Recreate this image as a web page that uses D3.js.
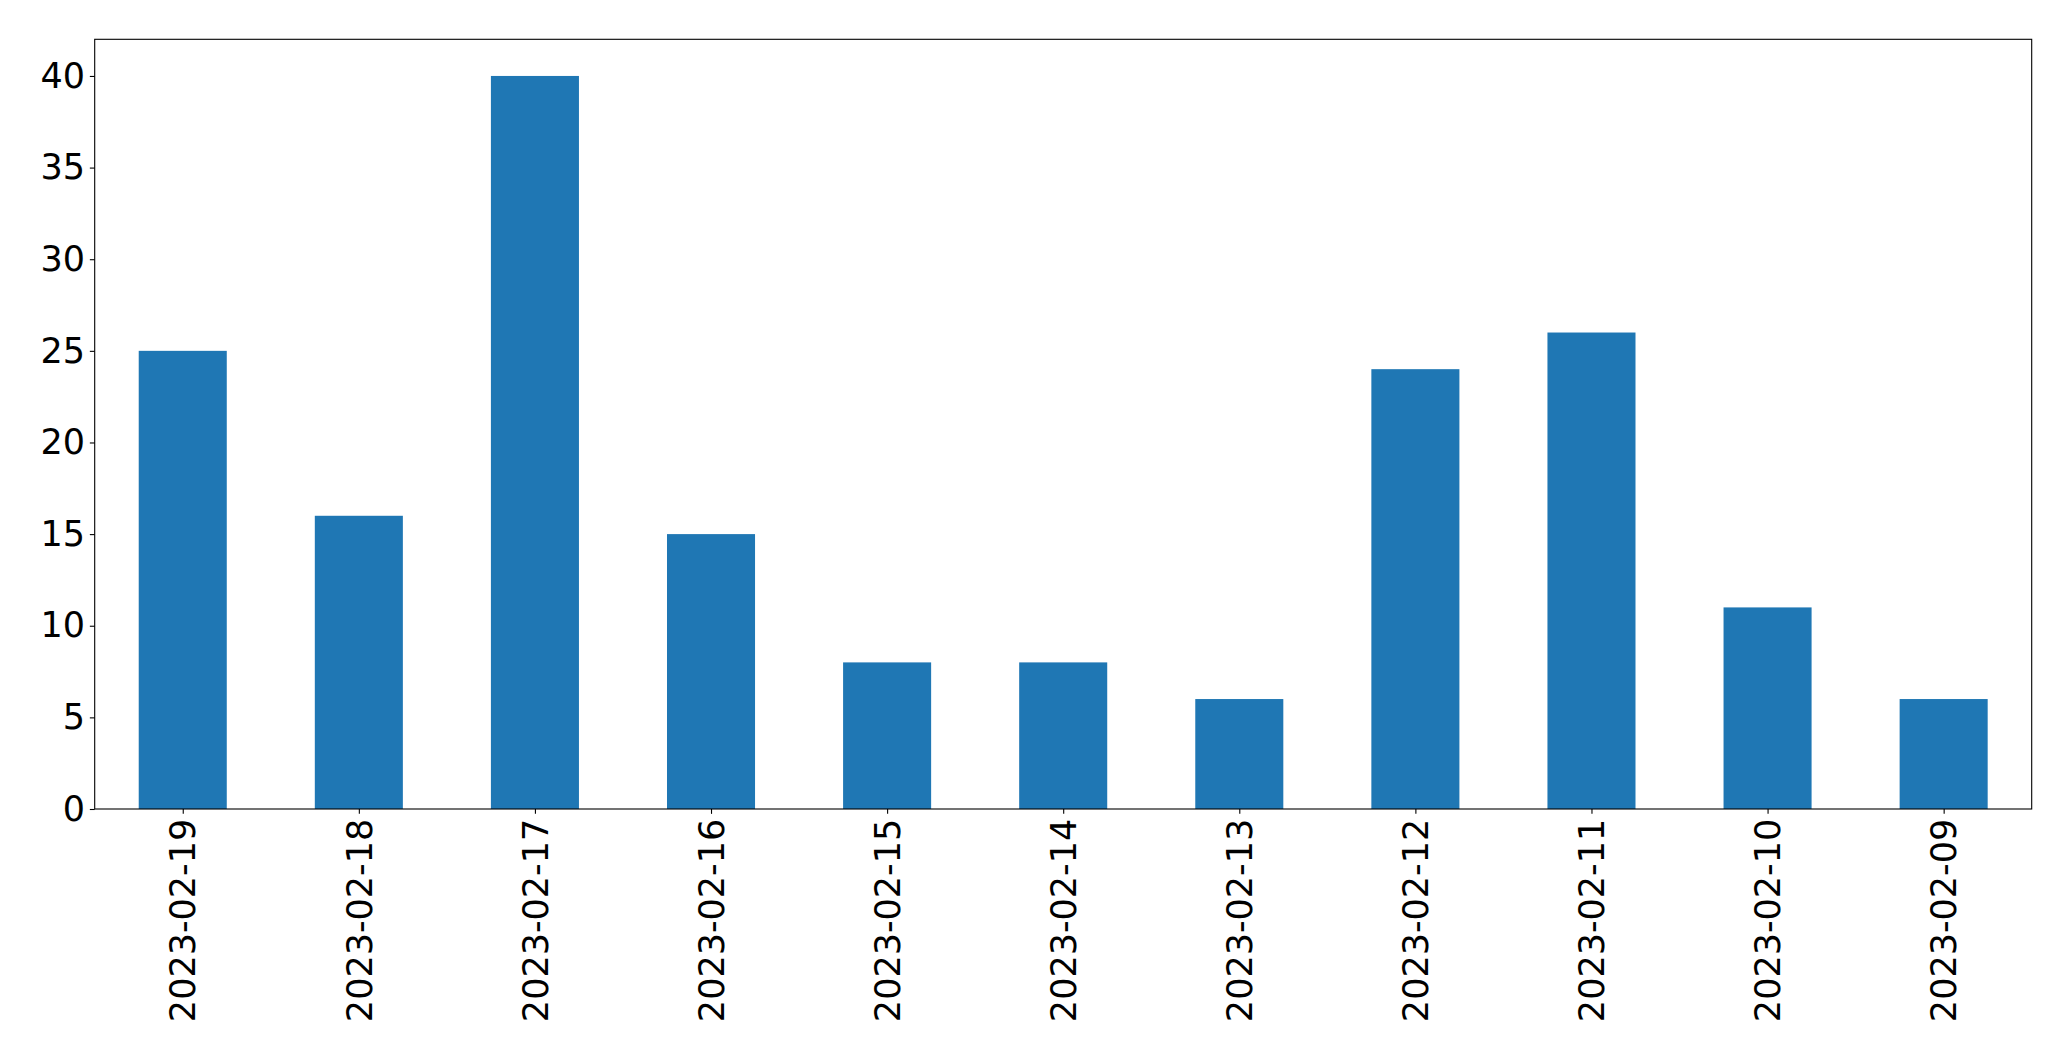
<!DOCTYPE html>
<html>
<head>
<meta charset="utf-8">
<script src="https://cdn.jsdelivr.net/npm/d3@7"></script>
<style>
  html, body { margin: 0; padding: 0; background: #fff; }
  svg { display: block; }
  text { font-family: "DejaVu Sans", sans-serif; }
</style>
</head>
<body>
<script>
const categories = ["2023-02-19","2023-02-18","2023-02-17","2023-02-16","2023-02-15","2023-02-14","2023-02-13","2023-02-12","2023-02-11","2023-02-10","2023-02-09"];
const values = [25, 16, 40, 15, 8, 8, 6, 24, 26, 11, 6];
const yTicks = [0, 5, 10, 15, 20, 25, 30, 35, 40];

const W = 2071, H = 1061;
const mLeft = 94.7, mRight = 2031.7, mTop = 39.3, mBottom = 809;
const fontSize = 35;
const tickLen = 4.86, tickPad = 4.86;

const svg = d3.select("body").append("svg").attr("width", W).attr("height", H);

const x = d3.scaleLinear().domain([-0.5, categories.length - 0.5]).range([mLeft, mRight]);
const y = d3.scaleLinear().domain([0, 42]).range([mBottom, mTop]);
const barW = 0.5;

svg.append("g").selectAll("rect").data(values).join("rect")
  .attr("x", (d, i) => x(i - barW / 2))
  .attr("width", (d, i) => x(i + barW / 2) - x(i - barW / 2))
  .attr("y", d => y(d))
  .attr("height", d => y(0) - y(d))
  .attr("fill", "#1f77b4");

// frame
svg.append("rect")
  .attr("x", mLeft).attr("y", mTop)
  .attr("width", mRight - mLeft).attr("height", mBottom - mTop)
  .attr("fill", "none").attr("stroke", "#000").attr("stroke-width", 1.1);

// y axis
const yAxis = d3.axisLeft(y).tickValues(yTicks).tickSize(tickLen).tickPadding(tickPad).tickFormat(d3.format("d"));
const gy = svg.append("g").attr("transform", `translate(${mLeft},0)`).call(yAxis);
gy.select(".domain").remove();
gy.selectAll(".tick line").attr("stroke", "#000").attr("stroke-width", 1.1);
gy.selectAll(".tick text").attr("font-size", fontSize).attr("fill", "#000")
  .attr("font-family", "DejaVu Sans, sans-serif");

// x axis
const xAxis = d3.axisBottom(x).tickValues(d3.range(categories.length)).tickSize(tickLen).tickFormat(i => categories[i]);
const gx = svg.append("g").attr("transform", `translate(0,${mBottom})`).call(xAxis);
gx.select(".domain").remove();
gx.selectAll(".tick line").attr("stroke", "#000").attr("stroke-width", 1.1);
gx.selectAll(".tick text")
  .attr("font-size", fontSize).attr("fill", "#000")
  .attr("font-family", "DejaVu Sans, sans-serif")
  .attr("text-anchor", "end")
  .attr("dy", "0.35em")
  .attr("transform", `translate(0,${tickLen + tickPad}) rotate(-90)`)
  .attr("x", 0).attr("y", 0);
</script>
</body>
</html>
